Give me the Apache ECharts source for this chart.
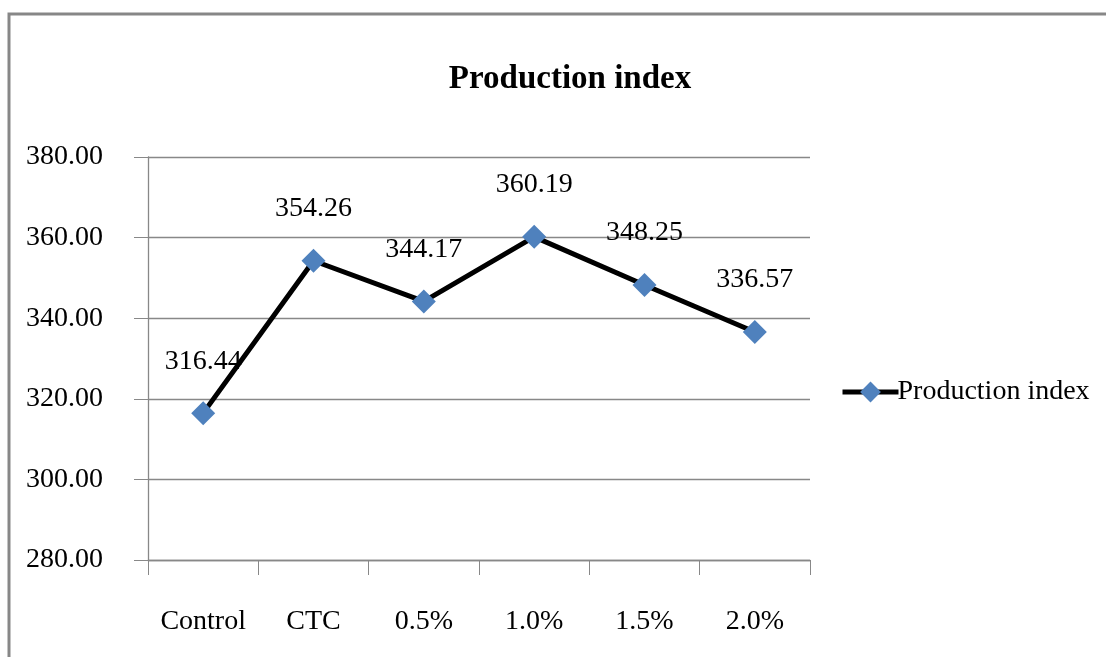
<!DOCTYPE html>
<html>
<head>
<meta charset="utf-8">
<script src="https://cdn.jsdelivr.net/npm/echarts@6/dist/echarts.min.js"></script>
<style>
  html, body { margin: 0; padding: 0; background: #fff; }
  #main { width: 1106px; height: 657px; }
</style>
</head>
<body>
<div id="main"></div>
<script>
var categories = ["Control", "CTC", "0.5%", "1.0%", "1.5%", "2.0%"];
var values = [316.44, 354.26, 344.17, 360.19, 348.25, 336.57];
var seriesName = "Production index";

var font = "'Liberation Serif', 'Times New Roman', serif";

var chart = echarts.init(document.getElementById("main"));
chart.setOption({
  animation: false,
  backgroundColor: "#fff",
  graphic: [{
    type: "rect",
    shape: { x: 9, y: 14, width: 1200, height: 800 },
    style: { fill: "none", stroke: "#878787", lineWidth: 3 },
    z: -1
  }],
  title: {
    text: "Production index",
    left: 565,
    top: 58,
    textAlign: "center",
    textStyle: { fontFamily: font, fontSize: 33, fontWeight: "bold", color: "#000" }
  },
  legend: {
    left: 835,
    top: 373,
    itemWidth: 56,
    itemHeight: 26,
    itemGap: 4,
    lineStyle: { width: 5, color: "#000" },
    textStyle: { fontFamily: font, fontSize: 28, color: "#000", padding: [0, 0, 0, -6] },
    data: [seriesName]
  },
  grid: { left: 148, top: 157, right: 296, bottom: 97, containLabel: false },
  xAxis: {
    type: "category",
    data: categories,
    boundaryGap: true,
    axisLine: { lineStyle: { color: "#888", width: 1.3 } },
    axisTick: { show: true, length: 15, interval: 0, alignWithLabel: false, lineStyle: { color: "#888" } },
    axisLabel: { fontFamily: font, fontSize: 28, color: "#000", margin: 48, interval: 0 }
  },
  yAxis: {
    type: "value",
    min: 280,
    max: 380,
    interval: 20,
    axisLine: { show: true, lineStyle: { color: "#888", width: 1.3 } },
    axisTick: { show: true, length: 14, lineStyle: { color: "#888" } },
    splitLine: { lineStyle: { color: "#888", width: 1.3 } },
    axisLabel: {
      fontFamily: font, fontSize: 28, color: "#000", margin: 45,
      formatter: function (v) { return v.toFixed(2); }
    }
  },
  series: [{
    name: seriesName,
    type: "line",
    data: values,
    symbol: "diamond",
    symbolSize: 24,
    itemStyle: { color: "#4F81BD" },
    lineStyle: { color: "#000", width: 5 },
    label: {
      show: true,
      position: "top",
      distance: 26,
      fontFamily: font,
      fontSize: 28,
      color: "#000",
      formatter: function (p) { return p.value.toFixed(2); }
    }
  }]
});
</script>
</body>
</html>
